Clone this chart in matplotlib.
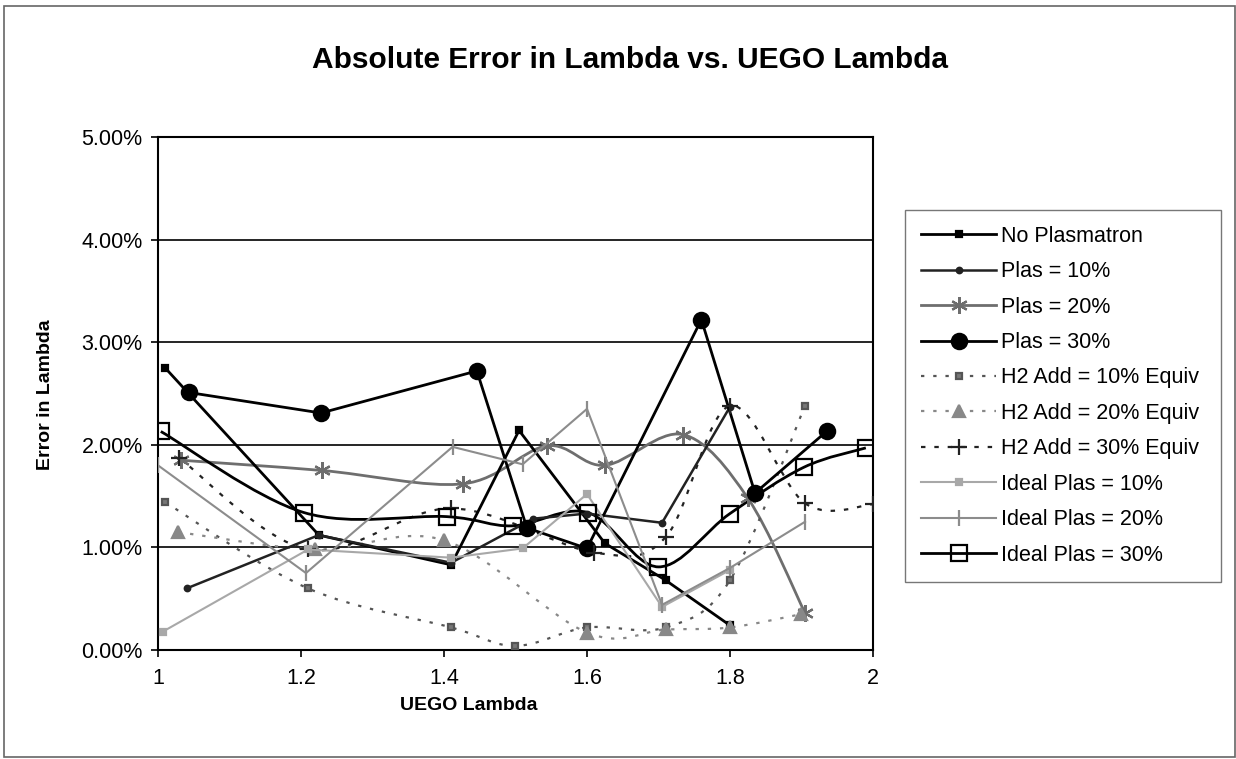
import numpy as np
import matplotlib.pyplot as plt
from matplotlib.path import Path
from matplotlib.patches import PathPatch, Rectangle
from matplotlib.lines import Line2D
from matplotlib.ticker import PercentFormatter, FixedLocator

plt.rcParams['font.family'] = ['Liberation Sans', 'DejaVu Sans']

# values (error in %)
no_plas_x = [1.01, 1.225, 1.41, 1.505, 1.625, 1.71, 1.80]
no_plas_y = [2.75, 1.12, 0.83, 2.14, 1.04, 0.68, 0.24]

plas10_x = [1.04, 1.225, 1.41, 1.525, 1.60, 1.705, 1.80]
plas10_y = [0.60, 1.12, 0.85, 1.28, 1.33, 1.24, 2.37]

plas20_x = [1.032, 1.229, 1.427, 1.544, 1.625, 1.734, 1.825, 1.905]
plas20_y = [1.85, 1.75, 1.62, 1.99, 1.80, 2.10, 1.48, 0.36]

plas30_x = [1.043, 1.228, 1.446, 1.516, 1.60, 1.76, 1.835, 1.935]
plas30_y = [2.51, 2.31, 2.72, 1.19, 0.99, 3.22, 1.53, 2.13]

h2_10_x = [1.01, 1.21, 1.41, 1.50, 1.60, 1.71, 1.80, 1.905]
h2_10_y = [1.44, 0.60, 0.22, 0.04, 0.22, 0.22, 0.68, 2.38]

h2_20_x = [1.028, 1.22, 1.40, 1.60, 1.71, 1.80, 1.90]
h2_20_y = [1.15, 0.98, 1.07, 0.17, 0.20, 0.22, 0.35]

h2_30_x = [1.03, 1.21, 1.41, 1.61, 1.71, 1.80, 1.905, 2.0]
h2_30_y = [1.87, 0.98, 1.38, 0.95, 1.10, 2.38, 1.43, 1.42]

ideal10_x = [1.007, 1.21, 1.41, 1.51, 1.60, 1.705, 1.80]
ideal10_y = [0.18, 0.98, 0.90, 0.99, 1.52, 0.42, 0.78]

ideal20_x = [1.0, 1.207, 1.412, 1.51, 1.60, 1.705, 1.80, 1.905]
ideal20_y = [1.80, 0.75, 1.98, 1.81, 2.35, 0.44, 0.80, 1.25]

ideal30_x = [1.004, 1.204, 1.404, 1.496, 1.601, 1.70, 1.80, 1.903, 1.99]
ideal30_y = [2.13, 1.34, 1.30, 1.21, 1.34, 0.81, 1.33, 1.78, 1.97]

x_ticks = [1, 1.2, 1.4, 1.6, 1.8, 2]
x_tick_labels = ['1', '1.2', '1.4', '1.6', '1.8', '2']
y_ticks = [0, 1, 2, 3, 4, 5]


def smooth_path(xs, ys):
    # Excel-like smoothed line: Catmull-Rom turned into cubic Bezier segments
    pts = np.column_stack([xs, ys])
    verts = [pts[0]]
    codes = [Path.MOVETO]
    n = len(pts)
    for i in range(n - 1):
        p0 = pts[i - 1] if i > 0 else pts[i]
        p3 = pts[i + 2] if i + 2 < n else pts[i + 1]
        verts += [pts[i] + (pts[i + 1] - p0) / 6,
                  pts[i + 1] - (p3 - pts[i]) / 6,
                  pts[i + 1]]
        codes += [Path.CURVE4] * 3
    return Path(verts, codes)


series = [
    # x, y, label, color, lw, ls, marker, msize, mfc, smooth
    (no_plas_x, no_plas_y, 'No Plasmatron', 'black', 2.0, '-', 's', 4, 'black', False),
    (plas10_x, plas10_y, 'Plas = 10%', '#222222', 1.8, '-', 'o', 4, '#222222', False),
    (plas20_x, plas20_y, 'Plas = 20%', '#6e6e6e', 2.0, '-', (6, 2, 0), 12, '#6e6e6e', True),
    (plas30_x, plas30_y, 'Plas = 30%', 'black', 2.0, '-', 'o', 11, 'black', False),
    (h2_10_x, h2_10_y, 'H2 Add = 10% Equiv', '#555555', 1.6, (0, (1.5, 4)), 's', 5, '#777777', True),
    (h2_20_x, h2_20_y, 'H2 Add = 20% Equiv', '#888888', 1.6, (0, (1.5, 4)), '^', 9, '#888888', True),
    (h2_30_x, h2_30_y, 'H2 Add = 30% Equiv', '#222222', 1.6, (0, (2, 4)), '+', 11, '#222222', True),
    (ideal10_x, ideal10_y, 'Ideal Plas = 10%', '#a8a8a8', 1.5, '-', 's', 5, '#a8a8a8', False),
    (ideal20_x, ideal20_y, 'Ideal Plas = 20%', '#8c8c8c', 1.5, '-', '|', 12, '#8c8c8c', False),
    (ideal30_x, ideal30_y, 'Ideal Plas = 30%', 'black', 2.0, '-', 's', 11, 'none', True),
]

fig = plt.figure(figsize=(12.36, 7.59), dpi=100)
ax = fig.add_axes([0.1278, 0.1436, 0.5785, 0.6759])

handles = []
for xs, ys, label, color, lw, ls, marker, ms, mfc, smooth in series:
    if smooth:
        ax.add_patch(PathPatch(smooth_path(xs, ys), fill=False, edgecolor=color,
                               lw=lw, linestyle=ls, zorder=3))
        ax.plot(xs, ys, linestyle='none', marker=marker, ms=ms, color=color,
                mfc=mfc, mec=color, mew=1.6, zorder=4)
    else:
        ax.plot(xs, ys, linestyle=ls, lw=lw, marker=marker, ms=ms, color=color,
                mfc=mfc, mec=color, mew=1.6, zorder=4)
    handles.append(Line2D([], [], linestyle=ls, lw=lw, marker=marker, ms=ms,
                          color=color, mfc=mfc, mec=color, mew=1.6, label=label))

ax.set_xlim(1, 2)
ax.set_ylim(0, 5)
ax.xaxis.set_major_locator(FixedLocator(x_ticks))
ax.set_xticklabels(x_tick_labels)
ax.yaxis.set_major_locator(FixedLocator(y_ticks))
ax.yaxis.set_major_formatter(PercentFormatter(xmax=100, decimals=2))
ax.grid(axis='y', color='black', lw=1.2)
ax.set_axisbelow(True)
for s in ax.spines.values():
    s.set_linewidth(1.5)
    s.set_color('black')
ax.tick_params(axis='both', labelsize=15.5, direction='out', length=5, width=1.2, pad=6)
ax.tick_params(axis='x', pad=8)

fig.text(0.51, 0.921, 'Absolute Error in Lambda vs. UEGO Lambda', ha='center', va='center',
         fontsize=21.5, fontweight='bold')
fig.text(0.037, 0.48, 'Error in Lambda', rotation=90, ha='center', va='center',
         fontsize=14, fontweight='bold')
fig.text(0.379, 0.07, 'UEGO Lambda', ha='center', va='center',
         fontsize=14, fontweight='bold')

leg = fig.legend(handles=handles, loc='upper left',
                 bbox_to_anchor=(0.732, 0.2398, 0.256, 0.484), mode='expand',
                 fontsize=15.5, handlelength=3.5, handletextpad=0.2, labelspacing=0.67,
                 borderaxespad=0, borderpad=0.75, fancybox=False, frameon=True)
leg.get_frame().set_edgecolor('#555555')
leg.get_frame().set_linewidth(1.0)

fig.add_artist(Rectangle((0.003, 0.002), 0.996, 0.99, transform=fig.transFigure,
                         fill=False, edgecolor='#666666', lw=1.2))

fig.savefig('out.png', dpi=100)
